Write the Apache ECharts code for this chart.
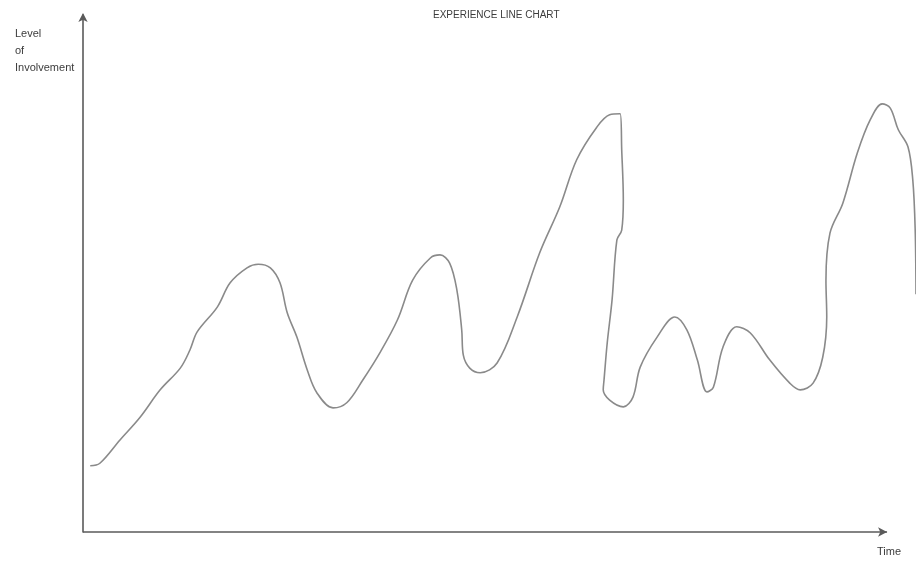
<!DOCTYPE html>
<html>
<head>
<meta charset="utf-8">
<title>Experience Line Chart</title>
<script src="https://cdn.jsdelivr.net/npm/echarts@6/dist/echarts.min.js"></script>
<style>
  html, body { margin: 0; padding: 0; background: #fff; }
  #chart { width: 916px; height: 564px; }
</style>
</head>
<body>
<div id="chart"></div>
<script>
// Hand-traced involvement path, in axis units (time 0-100, involvement 0-100).
// Points are listed in drawing order; the path doubles back near time 65-67
// and runs a little past the end of the time arrow on the right.
const timeValues = [
  0.9, 2.1, 4.6, 7.1, 9.6, 12.1, 13.3, 14.2, 16.7, 18.3, 20.4, 21.8, 23.3, 24.5,
  25.4, 26.6, 27.9, 29.1, 31.1, 32.8, 34.8, 36.9, 39.1, 41.0, 43.2, 44.4, 45.6,
  46.5, 47.1, 47.3, 48.1, 49.4, 51.5, 54.0, 56.8, 59.3, 61.4, 63.9, 65.5, 66.8,
  67.0, 67.2, 67.0, 66.4, 65.8, 65.2, 64.8, 64.7, 65.5, 67.2, 68.4, 69.3, 71.4,
  73.6, 75.1, 76.4, 77.6, 78.4, 79.6, 81.3, 83.0, 85.4, 87.9, 89.2, 90.8, 92.0,
  92.5, 92.4, 92.9, 94.5, 96.3, 97.9, 99.4, 100.4, 101.4, 102.6, 103.2, 103.5, 103.6
];
const involvementValues = [
  12.8, 13.3, 17.8, 22.2, 27.5, 31.7, 35.2, 38.7, 43.5, 48.2, 51.1, 51.8, 51.1, 48.2,
  42.4, 37.7, 31.3, 26.9, 24.0, 25.0, 29.4, 34.6, 41.0, 48.7, 53.0, 53.6, 52.0,
  46.8, 39.1, 34.2, 31.7, 30.8, 32.7, 41.6, 54.0, 62.9, 72.0, 78.3, 80.7, 80.9,
  73.9, 64.2, 58.4, 56.5, 44.9, 36.6, 29.4, 27.5, 25.5, 24.2, 26.1, 31.9, 37.7,
  41.6, 39.1, 33.3, 27.1, 28.0, 35.8, 39.7, 38.5, 33.3, 28.8, 27.5, 28.8, 33.8,
  41.6, 48.7, 57.8, 63.6, 73.3, 79.7, 82.8, 82.0, 77.8, 74.5, 68.1, 58.4, 46.0
];

const timeAxisEnd = 100;   // where the time arrow stops
const timeViewMax = 103.6; // right edge of the plotting area

const titleText = 'EXPERIENCE LINE CHART';
const yAxisTitle = 'Level\nof\nInvolvement';
const xAxisTitle = 'Time';

const path = timeValues.map((t, i) => [t, involvementValues[i]]);

const chart = echarts.init(document.getElementById('chart'), null, { renderer: 'canvas' });

const axisColor = '#5a5a5a';
const textColor = '#3c3c3c';

chart.setOption({
  backgroundColor: '#ffffff',
  animation: false,
  grid: { left: 83, right: 0, top: 15, bottom: 32, containLabel: false },
  xAxis: {
    type: 'value',
    min: 0,
    max: timeViewMax,
    axisLine: { show: false },
    axisTick: { show: false },
    axisLabel: { show: false },
    splitLine: { show: false }
  },
  yAxis: {
    type: 'value',
    min: 0,
    max: 100,
    axisLine: {
      show: true,
      lineStyle: { color: axisColor, width: 1.6 },
      symbol: ['none', 'arrow'],
      symbolSize: [7, 9],
      symbolOffset: [0, 2]
    },
    axisTick: { show: false },
    axisLabel: { show: false },
    splitLine: { show: false }
  },
  graphic: [
    {
      type: 'text', left: 433, top: 10,
      style: { text: titleText, fill: textColor, font: '10px "Liberation Sans", sans-serif' }
    },
    {
      type: 'text', left: 15, top: 25,
      style: { text: yAxisTitle, fill: textColor, lineHeight: 17, font: '11px "Liberation Sans", sans-serif' }
    },
    {
      type: 'text', left: 877, top: 546,
      style: { text: xAxisTitle, fill: textColor, font: '11px "Liberation Sans", sans-serif' }
    }
  ],
  series: [
    {
      type: 'line',
      data: path,
      smooth: 0.35,
      showSymbol: false,
      clip: false,
      lineStyle: { color: '#8a8a8a', width: 1.6 },
      // time axis drawn as an arrow that stops short of the plot's right edge
      markLine: {
        silent: true,
        animation: false,
        label: { show: false },
        lineStyle: { color: axisColor, width: 1.6, type: 'solid' },
        symbolSize: [7, 9],
        data: [[
          { coord: [0, 0], symbol: 'none' },
          { coord: [timeAxisEnd, 0], symbol: 'arrow' }
        ]]
      }
    }
  ]
});
</script>
</body>
</html>
